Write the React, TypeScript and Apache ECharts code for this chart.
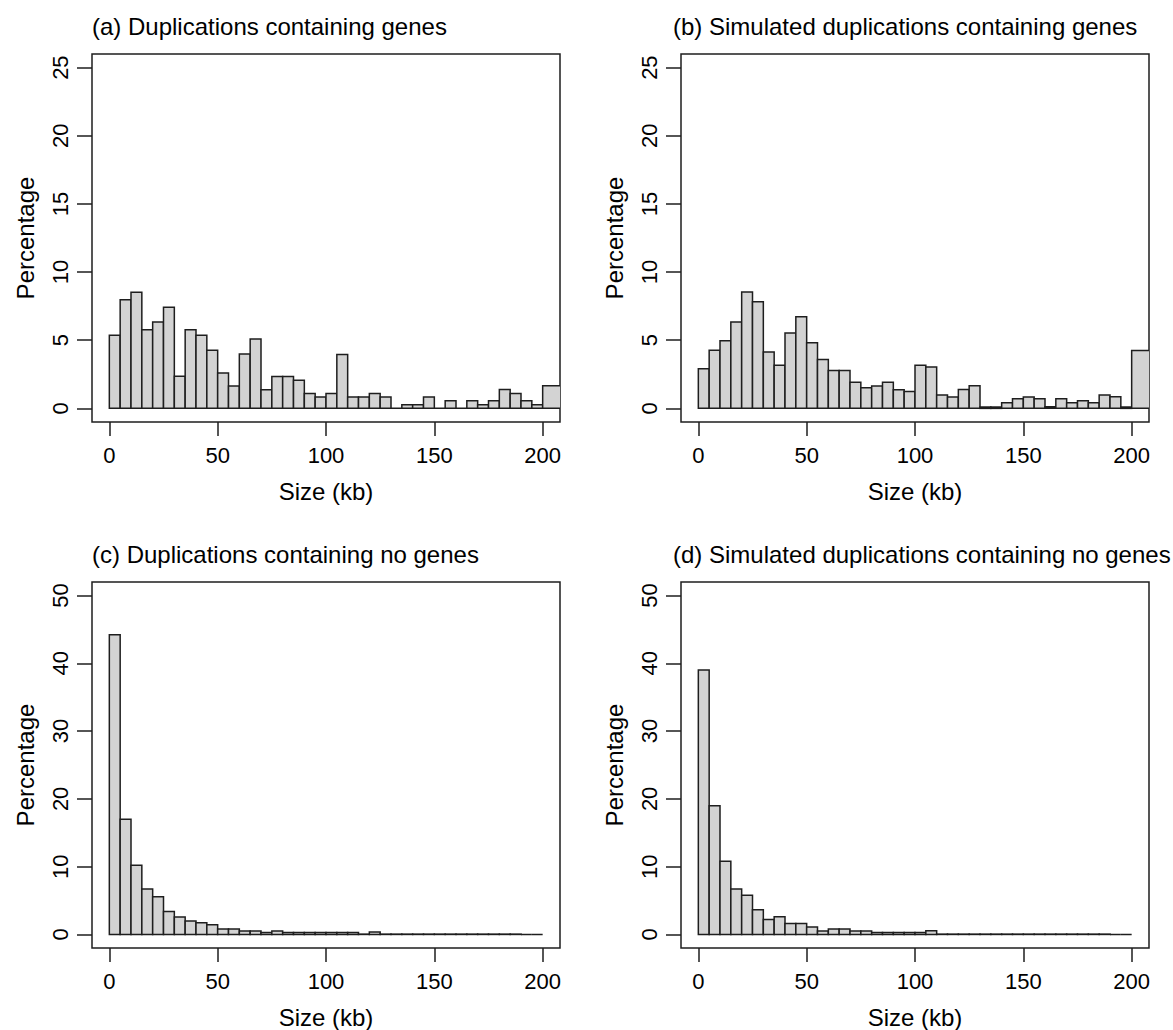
import React, { useEffect, useRef } from "react";
import * as echarts from "echarts";

// Histogram bin edges (kb); the last bin of the upper panels is open-ended (200+)
const breaks = [0, 5, 10, 15, 20, 25, 30, 35, 40, 45, 50, 55, 60, 65, 70, 75, 80, 85, 90, 95, 100, 105, 110, 115, 120, 125, 130, 135, 140, 145, 150, 155, 160, 165, 170, 175, 180, 185, 190, 195, 200, 210];

const pctA = [5.36, 7.97, 8.52, 5.77, 6.34, 7.42, 2.35, 5.77, 5.36, 4.26, 2.59, 1.64, 3.99, 5.09, 1.37, 2.33, 2.33, 2.06, 1.1, 0.83, 1.1, 3.96, 0.83, 0.83, 1.1, 0.83, 0, 0.27, 0.27, 0.83, 0, 0.56, 0, 0.56, 0.27, 0.56, 1.39, 1.1, 0.56, 0.27, 1.66];
const pctB = [2.91, 4.26, 4.97, 6.34, 8.54, 7.83, 4.13, 3.16, 5.53, 6.73, 4.82, 3.58, 2.77, 2.77, 1.91, 1.52, 1.64, 1.91, 1.37, 1.23, 3.16, 3.03, 0.98, 0.83, 1.39, 1.66, 0.1, 0.1, 0.41, 0.71, 0.83, 0.71, 0.12, 0.71, 0.41, 0.56, 0.41, 0.98, 0.85, 0.1, 4.24];
const pctC = [44.2, 17.0, 10.2, 6.7, 5.56, 3.37, 2.59, 2.0, 1.71, 1.42, 0.8, 0.8, 0.5, 0.5, 0.3, 0.5, 0.3, 0.3, 0.3, 0.3, 0.3, 0.3, 0.3, 0.05, 0.35, 0.05, 0.05, 0.05, 0.05, 0.05, 0.05, 0.05, 0.05, 0.05, 0.05, 0.05, 0.05, 0.05, 0, 0];
const pctD = [39.0, 19.0, 10.8, 6.7, 5.8, 3.66, 2.2, 2.6, 1.6, 1.6, 1.1, 0.5, 0.8, 0.8, 0.5, 0.5, 0.3, 0.3, 0.3, 0.3, 0.3, 0.55, 0.05, 0.05, 0.05, 0.05, 0.05, 0.05, 0.05, 0.05, 0.05, 0.05, 0.05, 0.05, 0.05, 0.05, 0.05, 0.05, 0, 0];

const xTicks = [0, 50, 100, 150, 200];
const yTicksTop = [0, 5, 10, 15, 20, 25];
const yTicksBottom = [0, 10, 20, 30, 40, 50];

const titles = [
  "(a) Duplications containing genes",
  "(b) Simulated duplications containing genes",
  "(c) Duplications containing no genes",
  "(d) Simulated duplications containing no genes",
];
const xName = "Size (kb)";
const yName = "Percentage";

const FONT = "'Liberation Sans', Arial, Helvetica, sans-serif";
const INK = "#1e1e1e";

function toBins(values: number[]) {
  return values.map((v, i) => [breaks[i], breaks[i + 1], v]);
}

export default function App() {
  const ref = useRef<HTMLDivElement>(null);

  useEffect(() => {
    if (!ref.current) return;
    const chart = echarts.init(ref.current, undefined, { renderer: "svg" });

    const panels = [
      { data: pctA, left: 92, top: 54, yMin: -1, yMax: 26, yTicks: yTicksTop, titleLeft: 92, titleTop: 14 },
      { data: pctB, left: 681, top: 54, yMin: -1, yMax: 26, yTicks: yTicksTop, titleLeft: 673, titleTop: 14 },
      { data: pctC, left: 92, top: 582, yMin: -2, yMax: 52, yTicks: yTicksBottom, titleLeft: 92, titleTop: 542 },
      { data: pctD, left: 681, top: 582, yMin: -2, yMax: 52, yTicks: yTicksBottom, titleLeft: 673, titleTop: 542 },
    ];

    const option: any = {
      animation: false,
      backgroundColor: "#ffffff",
      title: panels.map((p, i) => ({
        text: titles[i],
        left: p.titleLeft,
        top: p.titleTop,
        padding: 0,
        textStyle: { fontSize: 24, fontWeight: "normal", color: "#000", fontFamily: FONT },
      })),
      grid: panels.map((p) => ({
        left: p.left,
        top: p.top,
        width: 468,
        height: 368,
        show: true,
        borderColor: INK,
        borderWidth: 1.5,
        backgroundColor: "transparent",
      })),
      xAxis: panels.map((p, i) => ({
        type: "value",
        gridIndex: i,
        min: -8,
        max: 208,
        position: "bottom",
        axisLine: { show: false, onZero: false },
        splitLine: { show: false },
        axisTick: { show: true, inside: false, length: 14, customValues: xTicks, lineStyle: { color: INK, width: 1.5 } },
        axisLabel: { show: true, customValues: xTicks, margin: 22, fontSize: 22, color: "#000", fontFamily: FONT },
        name: xName,
        nameLocation: "middle",
        nameGap: 57,
        nameTextStyle: { fontSize: 24, color: "#000", fontFamily: FONT },
      })),
      yAxis: panels.map((p, i) => ({
        type: "value",
        gridIndex: i,
        min: p.yMin,
        max: p.yMax,
        position: "left",
        axisLine: { show: false, onZero: false },
        splitLine: { show: false },
        axisTick: { show: true, inside: false, length: 15, customValues: p.yTicks, lineStyle: { color: INK, width: 1.5 } },
        axisLabel: { show: true, customValues: p.yTicks, rotate: 90, margin: 21, fontSize: 22, color: "#000", fontFamily: FONT },
        name: yName,
        nameLocation: "middle",
        nameGap: 55,
        nameTextStyle: { fontSize: 24, color: "#000", fontFamily: FONT },
      })),
      series: panels.map((p, i) => ({
        type: "custom",
        xAxisIndex: i,
        yAxisIndex: i,
        clip: true,
        encode: { x: [0, 1], y: 2 },
        data: toBins(p.data),
        renderItem: (_params: any, api: any) => {
          const x0 = api.value(0);
          const x1 = api.value(1);
          const v = api.value(2);
          const pTop = api.coord([x0, v]);
          const pBot = api.coord([x1, 0]);
          return {
            type: "rect",
            shape: { x: pTop[0], y: pTop[1], width: pBot[0] - pTop[0], height: pBot[1] - pTop[1] },
            style: { fill: "#d3d3d3", stroke: INK, lineWidth: 1.5 },
          };
        },
      })),
    };

    chart.setOption(option);
    return () => chart.dispose();
  }, []);

  return (
    <div
      ref={ref}
      style={{ position: "fixed", left: 0, top: 0, width: 1173, height: 1030, background: "#fff" }}
    />
  );
}
